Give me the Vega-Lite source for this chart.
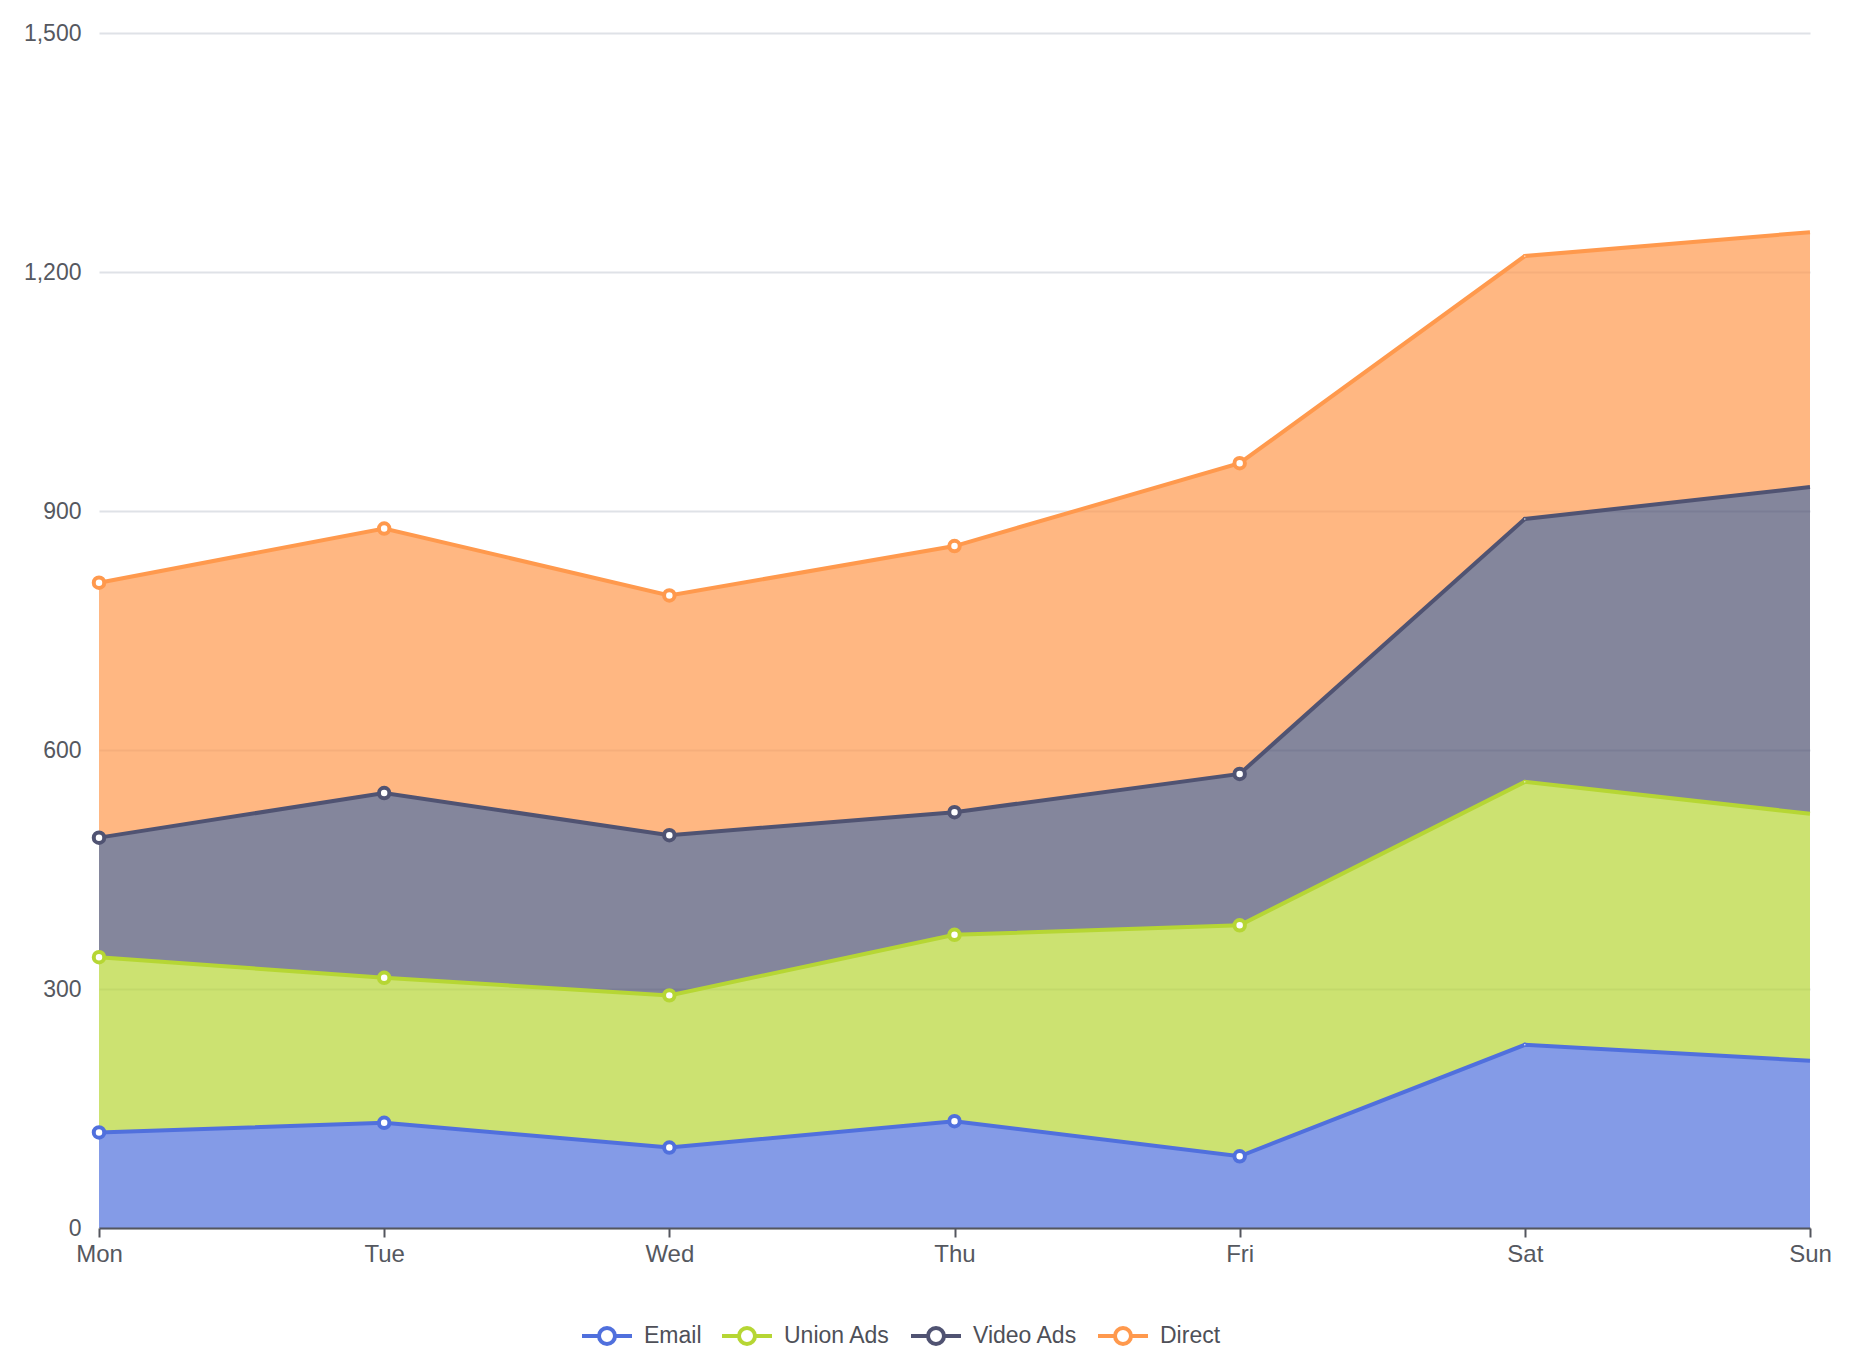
{
  "$schema": "https://vega.github.io/schema/vega-lite/v6.json",
  "autosize": "none",
  "padding": {"left": 99, "top": 33, "right": 44, "bottom": 143},
  "width": 1711,
  "height": 1195,
  "background": "white",
  "config": {
    "view": {"stroke": null},
    "font": "Liberation Sans"
  },
  "data": {
    "values": [
      {"day": "Mon", "series": "Email", "value": 120},
      {"day": "Tue", "series": "Email", "value": 132},
      {"day": "Wed", "series": "Email", "value": 101},
      {"day": "Thu", "series": "Email", "value": 134},
      {"day": "Fri", "series": "Email", "value": 90},
      {"day": "Sat", "series": "Email", "value": 230},
      {"day": "Sun", "series": "Email", "value": 210},
      {"day": "Mon", "series": "Union Ads", "value": 220},
      {"day": "Tue", "series": "Union Ads", "value": 182},
      {"day": "Wed", "series": "Union Ads", "value": 191},
      {"day": "Thu", "series": "Union Ads", "value": 234},
      {"day": "Fri", "series": "Union Ads", "value": 290},
      {"day": "Sat", "series": "Union Ads", "value": 330},
      {"day": "Sun", "series": "Union Ads", "value": 310},
      {"day": "Mon", "series": "Video Ads", "value": 150},
      {"day": "Tue", "series": "Video Ads", "value": 232},
      {"day": "Wed", "series": "Video Ads", "value": 201},
      {"day": "Thu", "series": "Video Ads", "value": 154},
      {"day": "Fri", "series": "Video Ads", "value": 190},
      {"day": "Sat", "series": "Video Ads", "value": 330},
      {"day": "Sun", "series": "Video Ads", "value": 410},
      {"day": "Mon", "series": "Direct", "value": 320},
      {"day": "Tue", "series": "Direct", "value": 332},
      {"day": "Wed", "series": "Direct", "value": 301},
      {"day": "Thu", "series": "Direct", "value": 334},
      {"day": "Fri", "series": "Direct", "value": 390},
      {"day": "Sat", "series": "Direct", "value": 330},
      {"day": "Sun", "series": "Direct", "value": 320}
    ]
  },
  "transform": [
    {"calculate": "indexof(['Email', 'Union Ads', 'Video Ads', 'Direct'], datum.series)", "as": "rank"}
  ],
  "encoding": {
    "x": {
      "field": "day",
      "type": "ordinal",
      "sort": ["Mon", "Tue", "Wed", "Thu", "Fri", "Sat", "Sun"],
      "scale": {"type": "point", "padding": 0},
      "axis": {
        "title": null,
        "labelAngle": 0,
        "labelFontSize": 24,
        "labelColor": "#55585f",
        "labelPadding": 5,
        "labelFlush": false,
        "labelOverlap": false,
        "domainColor": "#54565e",
        "domainWidth": 2,
        "tickColor": "#54565e",
        "tickWidth": 2,
        "tickSize": 9,
        "grid": false,
        "zindex": 1
      }
    },
    "y": {
      "field": "value",
      "type": "quantitative",
      "stack": "zero",
      "scale": {"domain": [0, 1500], "nice": false},
      "axis": {
        "title": null,
        "values": [0, 300, 600, 900, 1200, 1500],
        "format": ",d",
        "labelFontSize": 23,
        "labelColor": "#55585f",
        "labelPadding": 18,
        "domain": false,
        "ticks": false,
        "gridColor": "#dfe2e7",
        "gridWidth": 2
      }
    },
    "color": {
      "field": "series",
      "type": "nominal",
      "scale": {
        "domain": ["Email", "Union Ads", "Video Ads", "Direct"],
        "range": ["#5070dd", "#b6d634", "#505372", "#ff994d"]
      },
      "legend": {
        "title": null,
        "orient": "none",
        "direction": "horizontal",
        "legendX": 481,
        "legendY": 1276,
        "symbolType": "M-1,0L-0.32,0M0.32,0L1,0M-0.32,0A0.32,0.32,0,1,1,0.32,0A0.32,0.32,0,1,1,-0.32,0ZM-0.32,0A0.32,0.32,0,1,0,0.32,0A0.32,0.32,0,1,0,-0.32,0Z",
        "symbolSize": 2500,
        "symbolStrokeWidth": 4,
        "symbolOpacity": 1,
        "labelFontSize": 23,
        "labelColor": "#4e5058",
        "labelOffset": 10,
        "columnPadding": 12
      }
    },
    "order": {"field": "rank", "type": "quantitative"}
  },
  "layer": [
    {
      "mark": {
        "type": "area",
        "opacity": 0.7,
        "line": {"strokeWidth": 4, "opacity": 1}
      }
    },
    {
      "transform": [{"filter": "indexof(['Sat', 'Sun'], datum.day) < 0"}],
      "mark": {"type": "point", "shape": "circle", "filled": false, "fill": "white", "fillOpacity": 1, "size": 110, "strokeWidth": 4, "opacity": 1}
    },
    {
      "transform": [{"filter": "datum.day == 'Sat'"}],
      "mark": {"type": "point", "shape": "circle", "filled": false, "fill": "white", "fillOpacity": 1, "size": 8, "strokeWidth": 1.5, "opacity": 1}
    }
  ]
}
